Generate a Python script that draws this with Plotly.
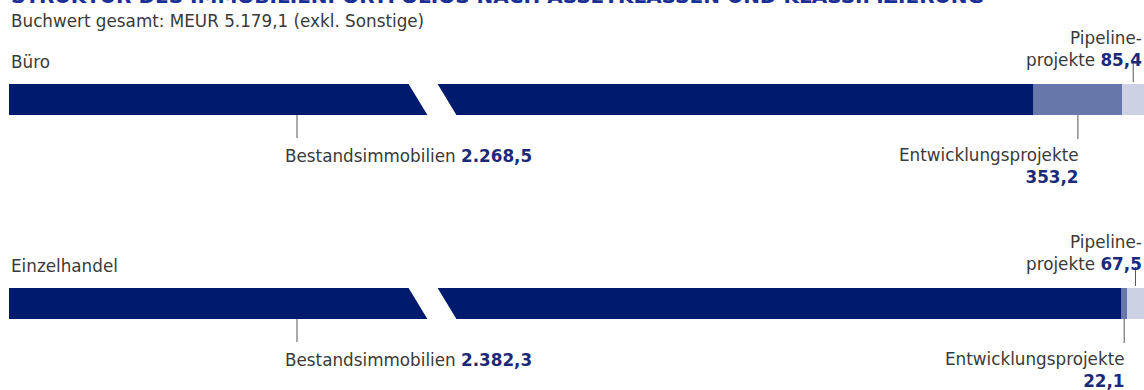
import plotly.graph_objects as go

# ---- data ----
categories = ["Büro", "Einzelhandel"]
bestand = [2268.5, 2382.3]
entwicklung = [353.2, 22.1]
pipeline = [85.4, 67.5]
bestand_labels = ["2.268,5", "2.382,3"]
entw_labels = ["353,2", "22,1"]
pipe_labels = ["85,4", "67,5"]
title_text = "STRUKTUR DES IMMOBILIENPORTFOLIOS NACH ASSETKLASSEN UND KLASSIFIZIERUNG"
subtitle_text = "Buchwert gesamt: MEUR 5.179,1 (exkl. Sonstige)"

# ---- layout constants ----
W, H = 1144, 390
ML = 9
R = 4500.0            # x-axis span (MEUR); Bestand segment is shown broken (not to scale)
row_y = [99.5, 303.5]  # row centres (y axis runs in page pixels, reversed)
bar_h = 31
FONT = "DejaVu Sans"
FS = 16.8
C_DARK = "#001B6E"
C_MID = "#6877A9"
C_LIGHT = "#CCD1E3"
C_VAL = "#1B2A78"
C_TXT = "#3a3a3a"
C_LINE = "#555555"

px_per_unit = (W - ML) / R
def px2x(px):
    return (px - ML) / px_per_unit

bestand_disp = [R - e - p for e, p in zip(entwicklung, pipeline)]

fig = go.Figure()
fig.add_trace(go.Bar(orientation="h", y=row_y, x=bestand_disp, width=bar_h,
                     marker=dict(color=C_DARK, line_width=0), customdata=bestand,
                     hovertemplate="Bestandsimmobilien %{customdata}<extra></extra>"))
fig.add_trace(go.Bar(orientation="h", y=row_y, x=entwicklung, width=bar_h,
                     marker=dict(color=C_MID, line_width=0),
                     hovertemplate="Entwicklungsprojekte %{x}<extra></extra>"))
fig.add_trace(go.Bar(orientation="h", y=row_y, x=pipeline, width=bar_h,
                     marker=dict(color=C_LIGHT, line_width=0),
                     hovertemplate="Pipelineprojekte %{x}<extra></extra>"))

shapes = []
annotations = []

def txt(x, ypx, text, xanchor, xref="x", size=FS, color=C_TXT, align="left", xshift=0):
    f = dict(family=FONT, size=size, color=color)
    annotations.append(dict(x=x, y=1 - ypx / H, xref=xref, yref="paper", text=text, showarrow=False,
                            xanchor=xanchor, yanchor="middle", align=align, xshift=xshift, font=f))

def vl(x, y0, y1):
    shapes.append(dict(type="line", xref="x", yref="y", x0=x, x1=x, y0=y0, y1=y1,
                       line=dict(color=C_LINE, width=1)))

def val(s):
    return f"<b><span style='color:{C_VAL}'>{s}</span></b>"

for i, cat in enumerate(categories):
    yc = row_y[i]
    top = yc - bar_h / 2
    bot = yc + bar_h / 2
    bd = bestand_disp[i]
    # category label
    txt(0, top - 22, cat, "left", xref="paper")
    # break mark in Bestand segment (decorative axis break)
    bc = px2x(432.5)
    hw = 14.5 / px_per_unit
    sl = 10 / px_per_unit
    shapes.append(dict(type="path", xref="x", yref="y", fillcolor="white", line_width=0,
                       path=f"M {bc-hw-sl},{top-1} L {bc+hw-sl},{top-1} L {bc+hw+sl},{bot+1} L {bc-hw+sl},{bot+1} Z"))
    # Bestand leader + label
    bx = px2x(297)
    vl(bx, bot, bot + 23)
    txt(bx, bot + 41, f"Bestandsimmobilien {val(bestand_labels[i])}", "left", xshift=-14)
    # Entwicklung leader + label
    ex = bd + entwicklung[i] / 2
    vl(ex, bot, bot + 24)
    txt(ex, bot + 51, f"Entwicklungsprojekte<br>{val(entw_labels[i])}", "right", align="right", xshift=3)
    # Pipeline leader + label
    pxm = bd + entwicklung[i] + pipeline[i] / 2
    vl(pxm, top - 2, top - 21)
    txt(1, top - 35, f"Pipeline-<br>projekte {val(pipe_labels[i])}", "right", xref="paper", align="right")

# title (mostly cut off at the page top) and subtitle
txt(0, -4.5, f"<b>{title_text}</b>", "left", xref="paper", size=20, color="#1A2F95")
txt(0, 21, subtitle_text, "left", xref="paper")

fig.update_layout(
    width=W, height=H, margin=dict(l=ML, r=0, t=0, b=0),
    barmode="stack", showlegend=False,
    plot_bgcolor="white", paper_bgcolor="white",
    xaxis=dict(range=[0, R], visible=False, fixedrange=True),
    yaxis=dict(range=[H, 0], visible=False, fixedrange=True),
    shapes=shapes, annotations=annotations,
)
fig.write_html("out.html", config={"displayModeBar": False})
